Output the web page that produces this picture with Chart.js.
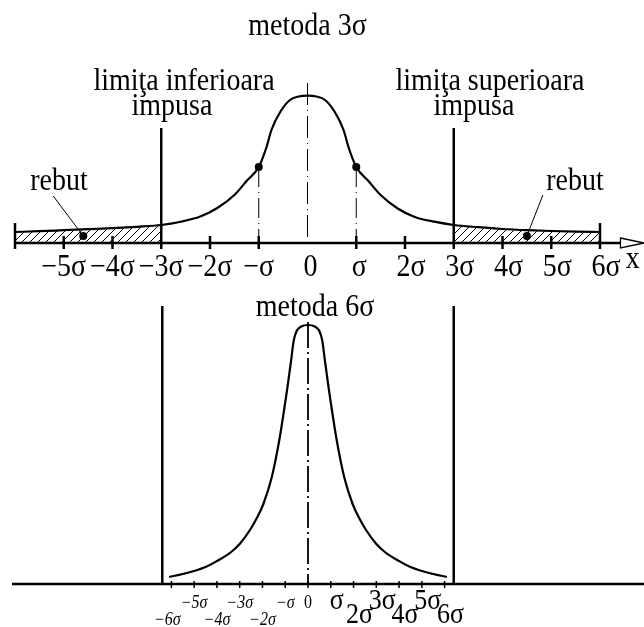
<!DOCTYPE html>
<html>
<head>
<meta charset="utf-8">
<script src="https://cdn.jsdelivr.net/npm/chart.js@4.4.1/dist/chart.umd.min.js"></script>
<style>
  html, body { margin: 0; padding: 0; background: #fff; }
  #pagina { position: relative; width: 644px; height: 627px; overflow: hidden; }
  #grafic3 { position: absolute; left: 0; top: 0; }
  #grafic6 { position: absolute; left: 0; top: 290px; }
</style>
</head>
<body>
<div id="pagina">
  <canvas id="grafic3" width="644" height="290"></canvas>
  <canvas id="grafic6" width="644" height="337"></canvas>
</div>
<script>
// metoda 3σ: abaterea (in σ) si inaltimea curbei de distributie
const x3 = [-6, -5.5, -5, -4.5, -4, -3.5, -3, -2.6, -2.2, -1.85, -1.5, -1.25, -1, -0.84, -0.74, -0.56, -0.36, -0.18, 0,
            0.18, 0.36, 0.56, 0.74, 0.84, 1, 1.25, 1.5, 1.85, 2.2, 2.6, 3, 3.5, 4, 4.5, 5, 5.5, 6];
const y3 = [11, 11.8, 12.8, 13.8, 14.8, 16.2, 18, 21.3, 26.5, 35, 48, 62, 76, 96, 113, 131, 143, 146.5, 147.3,
            146.5, 143, 131, 113, 96, 76, 62, 48, 34.5, 26, 21.3, 18, 15.8, 14, 12.8, 12, 11.4, 11];
const limite3 = [-3, 3];
const puncteSigmaX = [-1, 1];
const puncteSigmaY = [76, 76];
const rebutX = [-4.6, 4.5];
const rebutY = [7, 7];
const ticks3 = [-5, -4, -3, -2, -1, 0, 1, 2, 3, 4, 5, 6];
const etichete3 = ['−5σ', '−4σ', '−3σ', '−2σ', '−σ', '0', 'σ', '2σ', '3σ', '4σ', '5σ', '6σ'];

// metoda 6σ
const x6 = [-6.1, -5.5, -5, -4.45, -4, -3.43, -3, -2.55, -2.2, -1.96, -1.6, -1.26, -0.92, -0.75, -0.63, -0.5, -0.3, 0,
            0.3, 0.5, 0.63, 0.75, 0.92, 1.26, 1.6, 1.96, 2.2, 2.55, 3, 3.43, 4, 4.45, 5, 5.5, 6.1];
const y6 = [7, 10, 13, 17.5, 23, 31, 40, 54, 68, 80, 106, 144, 194, 222, 243, 253, 257.5, 259,
            257.5, 253, 243, 222, 194, 144, 106, 80, 68, 54, 40, 31, 23, 17.5, 13, 10, 7];
const limite6 = [-6.4, 6.4];
const ticks6 = [-6, -5, -4, -3, -2, -1, 0, 1, 2, 3, 4, 5, 6];
const etichete6 = ['−6σ', '−5σ', '−4σ', '−3σ', '−2σ', '−σ', '0', 'σ', '2σ', '3σ', '4σ', '5σ', '6σ'];

const SERIF = '"Liberation Serif", "Times New Roman", serif';

function puncte(xs, ys) {
  return xs.map((x, i) => ({ x: x, y: ys[i] }));
}

// hasura pentru zonele de rebut
function hasura() {
  const c = document.createElement('canvas');
  c.width = 8; c.height = 8;
  const g = c.getContext('2d');
  g.strokeStyle = '#000';
  g.lineWidth = 1;
  g.beginPath();
  g.moveTo(-1, 9); g.lineTo(9, -1);
  g.moveTo(-1, 1); g.lineTo(1, -1);
  g.moveTo(7, 9); g.lineTo(9, 7);
  g.stroke();
  return g.createPattern(c, 'repeat');
}

function linie(ctx, x1, y1, x2, y2, w, dash) {
  ctx.save();
  ctx.lineWidth = w;
  ctx.strokeStyle = '#000';
  ctx.setLineDash(dash || []);
  ctx.beginPath();
  ctx.moveTo(x1, y1);
  ctx.lineTo(x2, y2);
  ctx.stroke();
  ctx.restore();
}

function text(ctx, s, x, y, size, italic) {
  ctx.save();
  ctx.fillStyle = '#000';
  ctx.font = (italic ? 'italic ' : '') + size + 'px ' + SERIF;
  ctx.textAlign = 'center';
  ctx.textBaseline = 'middle';
  ctx.translate(x, y);
  ctx.scale(1, 1.12);
  ctx.fillText(s, 0, 0);
  ctx.restore();
}

const curba3 = puncte(x3, y3);

const desen3 = {
  id: 'desen3',
  afterDatasetsDraw(chart) {
    const ctx = chart.ctx;
    const sx = chart.scales.x, sy = chart.scales.y;
    const y0 = sy.getPixelForValue(0);

    // axa absciselor cu sageata
    const xa = sx.getPixelForValue(-6);
    const xs = sx.getPixelForValue(6.42);
    linie(ctx, xa, y0, xs, y0, 2.5);
    ctx.save();
    ctx.beginPath();
    ctx.moveTo(xs, y0 - 5);
    ctx.lineTo(644, y0);
    ctx.lineTo(xs, y0 + 5);
    ctx.closePath();
    ctx.fillStyle = '#fff';
    ctx.fill();
    ctx.lineWidth = 1.3;
    ctx.stroke();
    ctx.restore();

    // gradatii
    ticks3.concat([-6]).forEach(k => {
      if (k === 0 || limite3.includes(k)) return;
      const px = sx.getPixelForValue(k);
      const sus = Math.abs(k) === 6 ? 20 : 7;
      linie(ctx, px, y0 - sus, px, y0 + 6, 2.5);
    });

    // limitele impuse
    limite3.forEach(k => {
      const px = sx.getPixelForValue(k);
      linie(ctx, px, sy.getPixelForValue(115), px, y0 + 6, 2.5);
    });

    // axa de simetrie si verticalele din ±σ
    const xc = sx.getPixelForValue(0);
    linie(ctx, xc, sy.getPixelForValue(160), xc, y0 - 6, 1, [22, 5, 1, 5]);
    puncteSigmaX.forEach((k, i) => {
      const px = sx.getPixelForValue(k);
      linie(ctx, px, sy.getPixelForValue(puncteSigmaY[i]), px, y0, 1, [20, 5, 1, 5]);
    });

    // etichetele axei
    ticks3.forEach((k, i) => {
      const dx = k > 1 ? 6 : (k >= 0 ? 3 : 0);
      text(ctx, etichete3[i], sx.getPixelForValue(k) + dx, y0 + 25, 28);
    });
    text(ctx, 'x', sx.getPixelForValue(6.67), y0 + 17, 28);

    // rebut
    const r1x = sx.getPixelForValue(rebutX[0]), r1y = sy.getPixelForValue(rebutY[0]);
    const r2x = sx.getPixelForValue(rebutX[1]), r2y = sy.getPixelForValue(rebutY[1]);
    linie(ctx, r1x, r1y, r1x - 30, r1y - 40, 1);
    linie(ctx, r2x, r2y, r2x + 16, r2y - 41, 1);
    text(ctx, 'rebut', 59, 182, 28);
    text(ctx, 'rebut', 575, 182, 28);

    // titluri
    text(ctx, 'metoda 3σ', xc, 27, 28);
    text(ctx, 'limiţa inferioara', 184, 82, 28);
    text(ctx, 'impusa', 172, 107, 28);
    text(ctx, 'limiţa superioara', 490, 82, 28);
    text(ctx, 'impusa', 474, 107, 28);
  }
};

new Chart(document.getElementById('grafic3'), {
  type: 'line',
  data: {
    datasets: [
      {
        data: curba3,
        borderColor: '#000',
        borderWidth: 2.2,
        pointRadius: 0,
        cubicInterpolationMode: 'monotone',
        fill: false,
        order: 1
      },
      {
        data: curba3.filter(p => p.x <= limite3[0]),
        borderWidth: 0,
        pointRadius: 0,
        cubicInterpolationMode: 'monotone',
        fill: 'origin',
        backgroundColor: hasura(),
        order: 3
      },
      {
        data: curba3.filter(p => p.x >= limite3[1]),
        borderWidth: 0,
        pointRadius: 0,
        cubicInterpolationMode: 'monotone',
        fill: 'origin',
        backgroundColor: hasura(),
        order: 3
      },
      {
        type: 'scatter',
        data: puncte(puncteSigmaX, puncteSigmaY).concat(puncte(rebutX, rebutY)),
        pointRadius: 4,
        backgroundColor: '#000',
        borderWidth: 0,
        order: 0
      }
    ]
  },
  options: {
    responsive: false,
    animation: false,
    events: [],
    layout: { padding: { left: 15, right: 44, top: 43, bottom: 47 } },
    scales: {
      x: { type: 'linear', min: -6, max: 6, display: false },
      y: { min: 0, max: 200, display: false }
    },
    plugins: { legend: { display: false }, tooltip: { enabled: false } }
  },
  plugins: [desen3]
});

const desen6 = {
  id: 'desen6',
  afterDatasetsDraw(chart) {
    const ctx = chart.ctx;
    const sx = chart.scales.x, sy = chart.scales.y;
    const y0 = sy.getPixelForValue(0);
    const xc = sx.getPixelForValue(0);

    linie(ctx, 12, y0, 644, y0, 2.5);

    limite6.forEach(k => {
      const px = sx.getPixelForValue(k);
      linie(ctx, px, 16, px, y0 + 1, 2.5);
    });

    ticks6.forEach(k => {
      const px = sx.getPixelForValue(k);
      linie(ctx, px, y0 - 3, px, y0 + 4, 1.5);
    });

    linie(ctx, xc, sy.getPixelForValue(262), xc, y0, 1.8, [26, 4, 2, 4]);

    // etichete: negative mici si cursive, pozitive mari, pe doua randuri
    ticks6.forEach((k, i) => {
      const px = sx.getPixelForValue(k);
      if (k <= 0) {
        const rand = Math.abs(k) % 2 === 0 && k !== 0 ? 1 : 0;
        text(ctx, etichete6[i], px - (k === -6 ? 4 : 0), y0 + (rand ? 36 : 19), 16, k !== 0);
      } else {
        const rand = k % 2 === 0 ? 1 : 0;
        text(ctx, etichete6[i], px + 6, y0 + (rand ? 31 : 17), 26);
      }
    });

    text(ctx, 'metoda 6σ', 315, 18, 28);
  }
};

new Chart(document.getElementById('grafic6'), {
  type: 'line',
  data: {
    datasets: [{
      data: puncte(x6, y6),
      borderColor: '#000',
      borderWidth: 2.2,
      pointRadius: 0,
      cubicInterpolationMode: 'monotone',
      fill: false
    }]
  },
  options: {
    responsive: false,
    animation: false,
    events: [],
    layout: { padding: { left: 160, right: 188, top: 24, bottom: 43 } },
    scales: {
      x: { type: 'linear', min: -6.5, max: 6.5, display: false },
      y: { min: 0, max: 270, display: false }
    },
    plugins: { legend: { display: false }, tooltip: { enabled: false } }
  },
  plugins: [desen6]
});
</script>
</body>
</html>
